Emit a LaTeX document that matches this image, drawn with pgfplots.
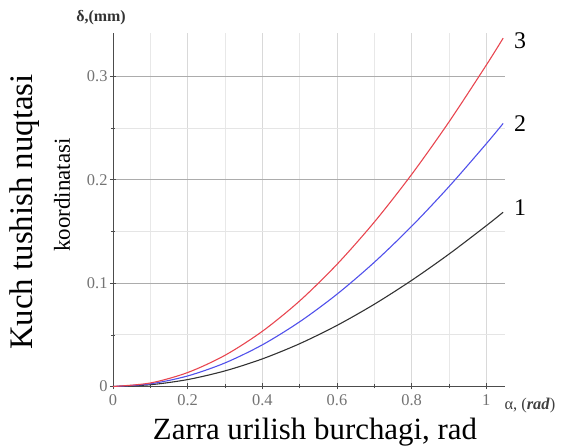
\documentclass[border=0pt]{standalone}
\usepackage{pgfplots}
\pgfplotsset{compat=1.18}
\usepackage{fontspec}
\setmainfont{Liberation Serif}
\definecolor{cred}{RGB}{232,70,80}
\definecolor{cblue}{RGB}{80,80,235}
\definecolor{cblack}{RGB}{50,50,50}
\begin{document}
\begin{tikzpicture}[x=1bp,y=1bp]
\useasboundingbox (-113,-61.5) rectangle (460,386.5);
\begin{axis}[
  at={(0,0)}, anchor=south west,
  scale only axis, width=392bp, height=353.5bp,
  xmin=0, xmax=1.05, ymin=0, ymax=0.342,
  axis x line=bottom, axis y line=left,
  axis line style={-, draw=black!70, line width=1pt},
  xtick={0,0.2,...,1}, ytick={0,0.1,0.2,0.3},
  minor xtick={0.1,0.3,0.5,0.7,0.9}, minor ytick={0.05,0.15,0.25},
  xticklabels={0,0.2,0.4,0.6,0.8,1},
  yticklabels={0,0.1,0.2,0.3},
  grid=both,
  x grid style={draw=gray!30, line width=0.8pt},
  y grid style={draw=gray!65, line width=0.6pt},
  minor x grid style={draw=gray!18, line width=0.8pt},
  minor y grid style={draw=gray!20, line width=0.8pt},
  tick align=center,
  major tick length=6bp, minor tick length=4bp,
  tick style={draw=black!70, line width=0.6pt},
  tick label style={font=\fontsize{16.5}{18}\selectfont, text=black!55},
  xticklabel style={yshift=-4bp, inner sep=1pt},
  yticklabel style={xshift=1bp},
  /pgf/number format/assume math mode=true,
  clip=false,
]
\addplot[cblack, line width=1.1pt, smooth] coordinates {
(0,0) (0.1,0.0017) (0.2,0.0067) (0.3,0.0151) (0.4,0.0267) (0.5,0.0414) (0.6,0.0591) (0.7,0.0796) (0.8,0.1027) (0.9,0.1281) (1.0,0.1556) (1.045,0.1686)};
\addplot[cblue, line width=1.1pt, smooth] coordinates {
(0,0) (0.1,0.0026) (0.2,0.0102) (0.3,0.0228) (0.4,0.0403) (0.5,0.0626) (0.6,0.0893) (0.7,0.1202) (0.8,0.1550) (0.9,0.1934) (1.0,0.2349) (1.045,0.2545)};
\addplot[cred, line width=1.1pt, smooth] coordinates {
(0,0) (0.1,0.0034) (0.2,0.0135) (0.3,0.0302) (0.4,0.0534) (0.5,0.0828) (0.6,0.1182) (0.7,0.1591) (0.8,0.2052) (0.9,0.2560) (1.0,0.3110) (1.045,0.3370)};
\node[font=\fontsize{24}{26}\selectfont, anchor=west] at (axis cs:1.065,0.335) {3};
\node[font=\fontsize{24}{26}\selectfont, anchor=west] at (axis cs:1.065,0.2546) {2};
\node[font=\fontsize{24}{26}\selectfont, anchor=west] at (axis cs:1.065,0.1735) {1};
\end{axis}
\node[font=\fontsize{16}{18}\selectfont\bfseries, text=black!80] at (-12,368.5) {δ,(mm)};
\node[font=\fontsize{16.5}{18}\selectfont, text=black!75, anchor=west] at (388,-19.5) {α, (\textbf{\textit{rad}})};
\node[font=\fontsize{33}{35}\selectfont, rotate=90] at (-88,174.5) {Kuch tushish nuqtasi};
\node[font=\fontsize{23}{25}\selectfont, rotate=90] at (-51,191.5) {koordinatasi};
\node[font=\fontsize{31}{33}\selectfont, inner sep=0pt, anchor=base] at (202,-53) {Zarra urilish burchagi, rad};
\end{tikzpicture}
\end{document}
